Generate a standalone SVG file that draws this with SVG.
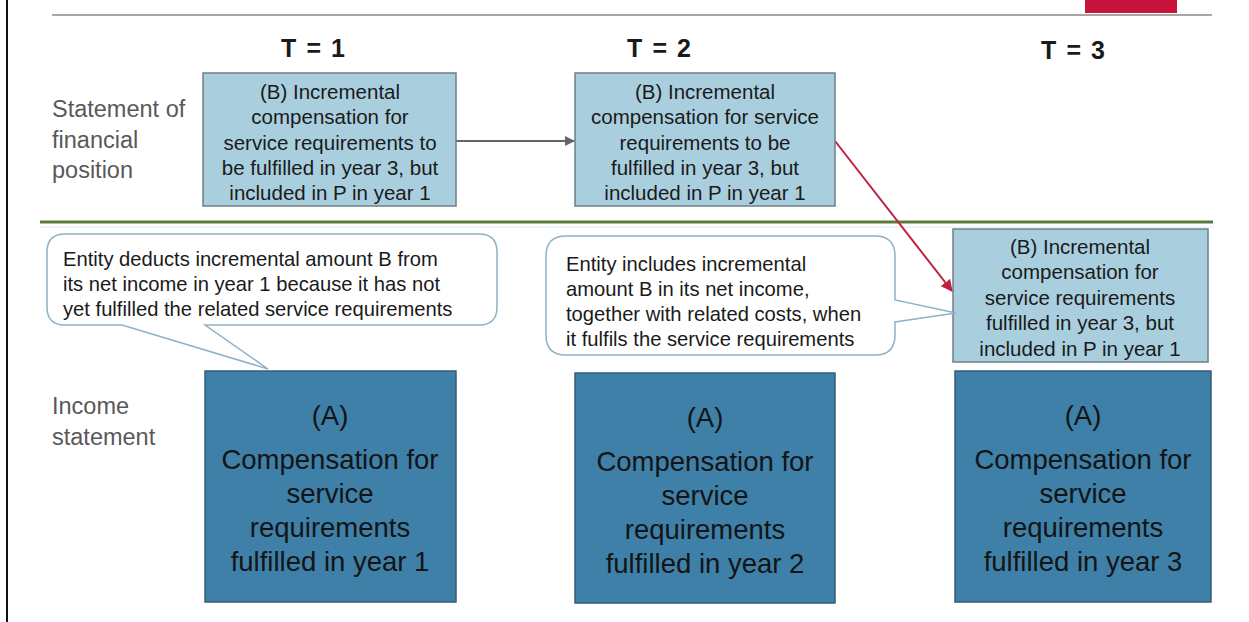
<svg xmlns="http://www.w3.org/2000/svg" width="1249" height="622" viewBox="0 0 1249 622">
<style>
  text { font-family: "Liberation Sans", Arial, sans-serif; }
  .lbl { font-size: 23.5px; fill: #595959; }
  .t { font-size: 25px; font-weight: bold; fill: #1a1a1a; text-anchor: middle; }
  .bbox { fill: #a9cfdf; stroke: #6e7f88; stroke-width: 1.5; }
  .btxt { font-size: 20.5px; fill: #1a1a1a; text-anchor: middle; }
  .abox { fill: #3e80a8; stroke: #355d78; stroke-width: 1.5; }
  .atxt { font-size: 27.5px; fill: #141414; text-anchor: middle; }
  .call { fill: #ffffff; stroke: #8db3c5; stroke-width: 1.5; }
  .ctxt { font-size: 20.2px; fill: #1a1a1a; }
</style>
<defs>
  <marker id="ag" viewBox="0 0 10 10" refX="9" refY="5" markerWidth="5" markerHeight="5" orient="auto" markerUnits="strokeWidth">
    <path d="M0,0 L10,5 L0,10 z" fill="#666666"/>
  </marker>
  <marker id="ar" viewBox="0 0 10 10" refX="9" refY="5" markerWidth="6" markerHeight="6" orient="auto" markerUnits="strokeWidth">
    <path d="M0,0 L10,5 L0,10 z" fill="#c0203e"/>
  </marker>
</defs>
<rect width="1249" height="622" fill="#ffffff"/>
<line x1="7" y1="0" x2="7" y2="622" stroke="#111111" stroke-width="2"/>
<line x1="52" y1="15" x2="1212" y2="15" stroke="#a6a6a6" stroke-width="2"/>
<rect x="1085" y="0" width="92" height="13" fill="#c8143a"/>

<g id="headers">
  <text class="t" x="313" y="57" textLength="64" lengthAdjust="spacing">T = 1</text>
  <text class="t" x="659" y="57" textLength="64" lengthAdjust="spacing">T = 2</text>
  <text class="t" x="1073" y="59" textLength="64" lengthAdjust="spacing">T = 3</text>
</g>

<g id="row-labels">
  <text class="lbl" x="52" y="117">Statement of</text>
  <text class="lbl" x="52" y="148">financial</text>
  <text class="lbl" x="52" y="178">position</text>
  <text class="lbl" x="52" y="414">Income</text>
  <text class="lbl" x="52" y="445">statement</text>
</g>

<line x1="40" y1="222" x2="1213" y2="222" stroke="#5b7a3a" stroke-width="3"/>
<line x1="40" y1="227" x2="1213" y2="227" stroke="#dfeaf0" stroke-width="1"/>

<g id="connectors">
  <line x1="456" y1="141" x2="574" y2="141" stroke="#666666" stroke-width="2" marker-end="url(#ag)"/>
  <line x1="835" y1="141" x2="952" y2="291" stroke="#c0203e" stroke-width="2" marker-end="url(#ar)"/>
</g>

<g id="b1">
  <rect class="bbox" x="203" y="73" width="253" height="133"/>
  <text class="btxt" x="330" y="99">(B)  Incremental</text>
  <text class="btxt" x="330" y="124">compensation for</text>
  <text class="btxt" x="330" y="150">service requirements to</text>
  <text class="btxt" x="330" y="175">be fulfilled  in year 3, but</text>
  <text class="btxt" x="330" y="200">included in P in year 1</text>
</g>

<g id="b2">
  <rect class="bbox" x="575" y="73" width="260" height="133"/>
  <text class="btxt" x="705" y="99">(B)  Incremental</text>
  <text class="btxt" x="705" y="124">compensation for service</text>
  <text class="btxt" x="705" y="150">requirements to be</text>
  <text class="btxt" x="705" y="175">fulfilled  in year 3, but</text>
  <text class="btxt" x="705" y="200">included in P in year 1</text>
</g>

<g id="b3">
  <rect class="bbox" x="953" y="229" width="255" height="133"/>
  <text class="btxt" x="1080" y="254">(B)  Incremental</text>
  <text class="btxt" x="1080" y="279">compensation for</text>
  <text class="btxt" x="1080" y="305">service requirements</text>
  <text class="btxt" x="1080" y="330">fulfilled  in year 3, but</text>
  <text class="btxt" x="1080" y="356">included in P in year 1</text>
</g>

<g id="callout1">
  <path class="call" d="M65,234 H479 Q497,234 497,252 V307 Q497,325 479,325 H205 L268,369 L122,325 H65 Q47,325 47,307 V252 Q47,234 65,234 Z"/>
  <text class="ctxt" x="63" y="266">Entity deducts incremental  amount B from</text>
  <text class="ctxt" x="63" y="291">its net income in year 1 because it has not</text>
  <text class="ctxt" x="63" y="316">yet fulfilled  the related service requirements</text>
</g>

<g id="callout2">
  <path class="call" d="M566,236 H875 Q895,236 895,256 V300 L956,313 L895,322 V335 Q895,355 875,355 H566 Q546,355 546,335 V256 Q546,236 566,236 Z"/>
  <text class="ctxt" x="566" y="271">Entity includes incremental</text>
  <text class="ctxt" x="566" y="296">amount  B in its net income,</text>
  <text class="ctxt" x="566" y="321">together with related costs, when</text>
  <text class="ctxt" x="566" y="346">it fulfils  the service requirements</text>
</g>

<g id="a1">
  <rect class="abox" x="205" y="371" width="251" height="231"/>
  <text class="atxt" x="330" y="425">(A)</text>
  <text class="atxt" x="330" y="469">Compensation for</text>
  <text class="atxt" x="330" y="503">service</text>
  <text class="atxt" x="330" y="537">requirements</text>
  <text class="atxt" x="330" y="571">fulfilled  in year 1</text>
</g>

<g id="a2">
  <rect class="abox" x="575" y="373" width="260" height="230"/>
  <text class="atxt" x="705" y="427">(A)</text>
  <text class="atxt" x="705" y="471">Compensation for</text>
  <text class="atxt" x="705" y="505">service</text>
  <text class="atxt" x="705" y="539">requirements</text>
  <text class="atxt" x="705" y="573">fulfilled  in year 2</text>
</g>

<g id="a3">
  <rect class="abox" x="955" y="371" width="256" height="231"/>
  <text class="atxt" x="1083" y="425">(A)</text>
  <text class="atxt" x="1083" y="469">Compensation for</text>
  <text class="atxt" x="1083" y="503">service</text>
  <text class="atxt" x="1083" y="537">requirements</text>
  <text class="atxt" x="1083" y="571">fulfilled  in year 3</text>
</g>
</svg>
